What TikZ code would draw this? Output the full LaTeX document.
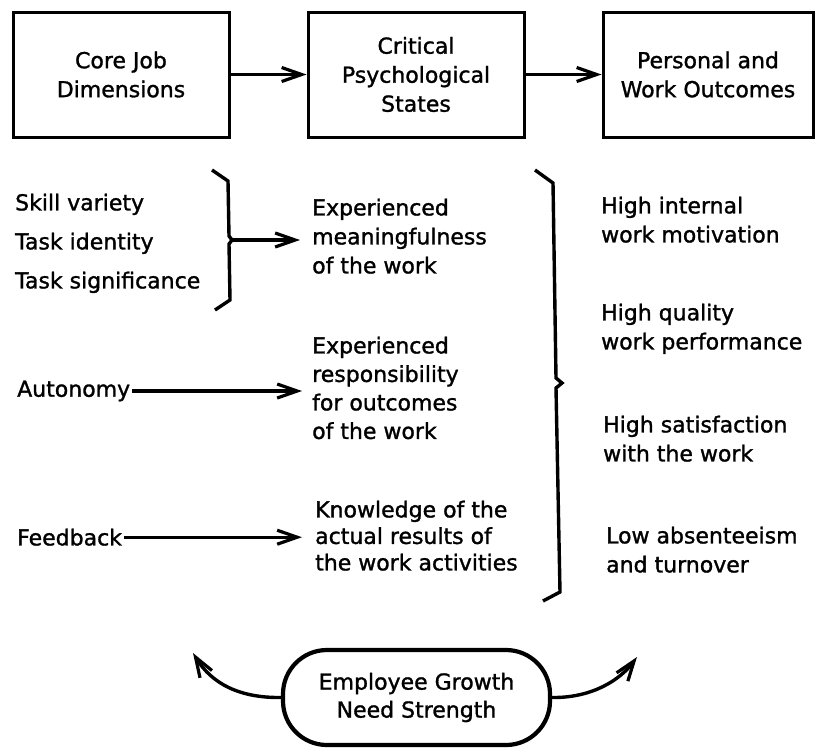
\documentclass[tikz,border=0pt]{standalone}
\usepackage{fontspec}
\setmainfont{DejaVu Sans}[FakeBold=1.3]
\usetikzlibrary{arrows.meta}

\tikzset{
  txt/.style={inner sep=0pt, align=left, anchor=north west,
              font=\fontsize{22}{29}\selectfont},
  headbox/.style={draw, line width=3pt, minimum width=216pt,
                  minimum height=125pt, inner sep=0pt, align=center,
                  font=\fontsize{22}{29}\selectfont},
  flow/.style={line width=3.4pt, -{Straight Barb[length=20pt,width=14pt,line width=3.2pt]}},
  bracepath/.style={line width=3.4pt, line join=miter},
  growth/.style={draw, line width=4.2pt, rounded corners=44pt,
                 minimum width=267pt, minimum height=95pt, align=center,
                 inner sep=0pt, font=\fontsize{22}{28}\selectfont},
}

\begin{document}
\begin{tikzpicture}[x=1pt, y=-1pt]
\useasboundingbox (0,0) rectangle (816,747);

% top row of headings
\node[headbox] (core) at (121,74.5) {Core Job\\Dimensions};
\node[headbox] (crit) at (416,74.5) {Critical\\Psychological\\States};
\node[headbox, minimum width=210pt] (outc) at (708,74.5) {Personal and\\Work Outcomes};
\draw[flow] (core.east) -- (crit.west);
\draw[flow] (crit.east) -- (outc.west);

% core job dimensions
\node[txt, font=\fontsize{22}{39}\selectfont] (skills) at (15,193.5)
  {Skill variety\\Task identity\\Task significance};
\node[txt] (auto) at (17,380.5) {Autonomy};
\node[txt] (feed) at (17,528.5) {Feedback};

% critical psychological states
\node[txt] (mean) at (312,198.5) {Experienced\\meaningfulness\\of the work};
\node[txt, font=\fontsize{22}{28.5}\selectfont] (resp) at (312,336.5)
  {Experienced\\responsibility\\for outcomes\\of the work};
\node[txt, font=\fontsize{22}{26.5}\selectfont] (know) at (315,500.5)
  {Knowledge of the\\actual results of\\the work activities};

% outcomes
\node[txt] (motiv) at (601,196.5) {High internal\\work motivation};
\node[txt] (perf)  at (601,303.5) {High quality\\work performance};
\node[txt] (satis) at (603,415.5) {High satisfaction\\with the work};
\node[txt] (absent) at (606,526.5) {Low absenteeism\\and turnover};

% left brace and its arrow
\coordinate (lbtip) at (232,240);
\draw[bracepath] (212,170) -- (228,181) -- (229,236) -- (lbtip)
  -- (229,244) -- (230,300) -- (215,310);
\draw[flow, shorten >=12pt] (lbtip) -- (lbtip -| mean.west);

% single-dimension arrows
\draw[flow, shorten >=10pt] (auto.east) ++(2pt,0) coordinate (a0) -- (a0 -| resp.west);
\draw[flow, shorten >=13pt] (feed.east) ++(2pt,0) coordinate (f0) -- (f0 -| know.west);

% right brace
\draw[bracepath] (535,170) -- (553,183) -- (556,378) -- (562,383)
  -- (556,388) -- (560,592) -- (543,601);

% growth need strength moderator
\node[growth] (gns) at (416.5,697.5) {Employee Growth\\Need Strength};
\coordinate (lend) at (193,653);
\coordinate (rend) at (637,657);
\draw[flow] (gns.west) .. controls (240,698) and (212,684) .. (lend);
\draw[flow] (gns.east) .. controls (592,698) and (620,680) .. (rend);
\end{tikzpicture}
\end{document}
